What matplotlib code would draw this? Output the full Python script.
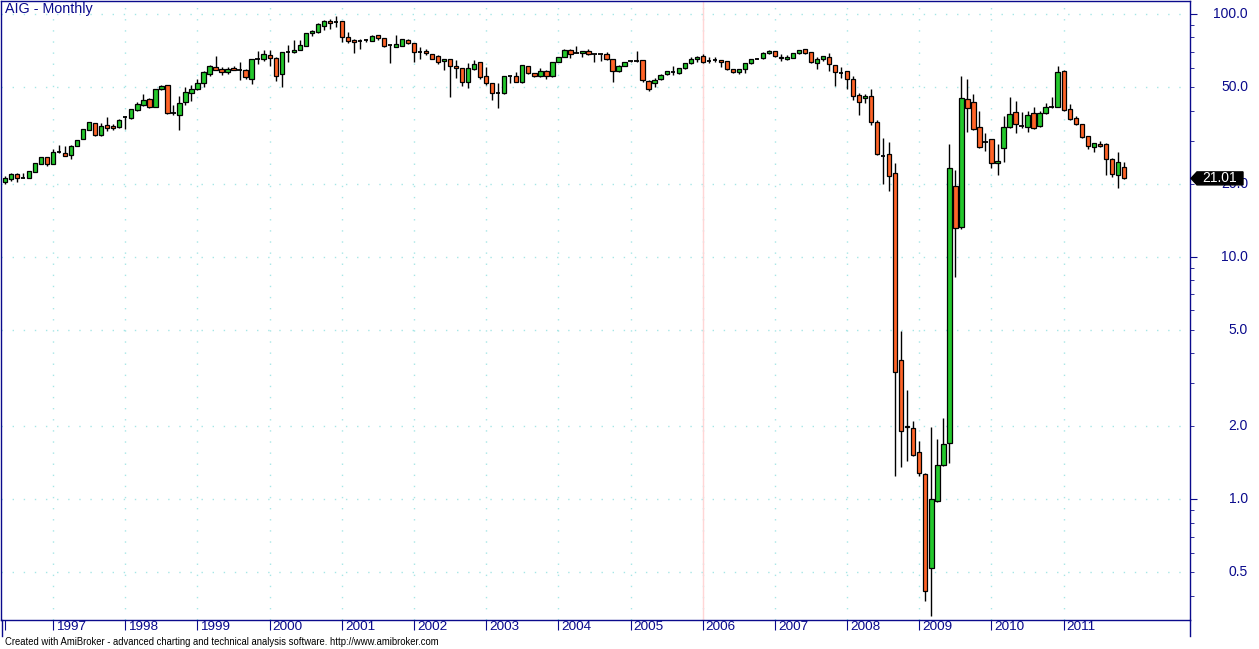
"""AIG monthly candlestick chart, AmiBroker style, log price scale."""

import matplotlib

matplotlib.use("Agg")
import matplotlib.pyplot as plt
import matplotlib.transforms as mtransforms
from matplotlib.patches import Polygon
import numpy as np
import pandas as pd

plt.rcParams["font.family"] = ["Liberation Sans", "DejaVu Sans"]

NAVY = "#0a0a8c"
GREEN = "#24c82c"
ORANGE = "#ff6428"
GRID = "#a6e6e6"

# ---- Data: monthly OHLC, May 1996 .. Nov 2011 ------------------------------ #
start_month = "1996-05"

opens = [
    20.25, 20.85, 22.0, 21.2, 21.05, 22.4, 24.1, 25.65,
    24.1, 26.9, 26.7, 26.15, 28.7, 30.5, 33.4, 35.4, 31.6, 34.8, 34.5, 34.1,
    37.4, 37.2, 40.1, 42.0, 44.6, 41.5, 48.9, 50.8, 39.2, 38.2, 43.5, 47.1,
    49.2, 51.8, 56.4, 60.3, 59.1, 57.5, 59.7, 58.7, 58.7, 53.8, 65.3, 65.0,
    67.6, 65.6, 56.4, 69.9, 69.5, 71.3, 74.0, 83.2, 84.5, 89.5, 93.3, 92.7,
    93.3, 80.6, 78.2, 77.8, 77.7, 77.5, 81.6, 79.4, 74.4, 73.3, 74.0, 77.9,
    75.7, 70.0, 70.3, 68.2, 66.9, 63.8, 65.0, 61.1, 59.7, 52.3, 59.5, 63.4,
    55.3, 51.8, 47.2, 47.1, 55.4, 55.4, 52.3, 61.1, 57.1, 55.4, 58.2, 55.4,
    63.6, 66.7, 70.8, 69.2, 68.9, 70.2, 68.3, 68.2, 68.2, 65.0, 58.4, 61.1,
    63.8, 64.0, 64.4, 52.8, 51.8, 53.8, 56.4, 57.9, 56.9, 59.7, 62.6, 65.0,
    66.9, 64.3, 64.4, 64.4, 63.8, 59.3, 57.5, 59.1, 62.6, 65.4, 65.6, 68.9,
    70.2, 66.7, 65.0, 66.1, 68.9, 71.6, 69.5, 62.6, 65.0, 66.5, 61.5, 57.3,
    58.2, 54.1, 46.2, 44.9, 45.9, 35.8, 26.0, 26.6, 22.1, 3.74, 2.0, 1.96,
    1.56, 1.27, 0.52, 0.98, 1.38, 1.70, 19.5, 13.2, 44.5, 43.3, 34.1, 29.8,
    30.4, 24.3, 28.0, 34.1, 39.4, 34.5, 34.1, 39.0, 34.4, 39.0, 41.4, 41.5,
    58.2, 40.5, 37.2, 35.1, 31.3, 28.4, 29.1, 29.1, 25.2, 21.6, 23.35,
]
highs = [
    21.4, 22.2, 22.1, 22.15, 22.6, 24.3, 25.8, 25.8,
    27.7, 28.8, 28.6, 28.8, 30.3, 33.6, 35.9, 35.5, 35.5, 37.6, 35.2, 37.0,
    37.8, 40.7, 43.2, 46.6, 44.9, 49.1, 50.9, 51.0, 42.3, 45.9, 50.2, 51.2,
    54.0, 58.4, 61.6, 67.1, 60.3, 60.7, 61.2, 63.2, 59.3, 65.1, 70.2, 71.1,
    71.1, 66.7, 69.7, 74.5, 77.9, 78.2, 83.4, 85.6, 91.5, 94.8, 95.7, 98.1,
    93.5, 84.0, 79.1, 79.1, 78.5, 82.1, 81.8, 79.6, 74.8, 81.9, 78.9, 78.7,
    76.0, 72.9, 72.0, 68.4, 67.6, 65.2, 65.2, 64.6, 59.9, 62.6, 64.6, 63.6,
    60.5, 52.0, 51.8, 55.6, 55.6, 57.7, 61.7, 61.3, 57.3, 59.7, 58.8, 63.4,
    66.7, 71.8, 71.8, 73.8, 70.4, 71.6, 68.5, 68.5, 69.5, 65.2, 61.7, 63.6,
    64.2, 70.4, 64.6, 53.5, 54.5, 56.6, 58.4, 61.1, 59.9, 62.8, 66.5, 67.1,
    68.4, 66.3, 66.7, 64.6, 64.2, 59.5, 59.3, 62.8, 65.2, 65.8, 69.9, 71.1,
    70.4, 68.2, 67.8, 69.1, 71.1, 71.8, 69.7, 66.3, 67.1, 68.9, 61.7, 60.7,
    58.4, 55.4, 47.1, 46.9, 48.9, 36.4, 30.9, 29.6, 24.2, 4.94, 2.82, 2.10,
    1.74, 1.28, 1.99, 1.77, 2.17, 29.1, 22.75, 55.5, 54.0, 46.7, 39.8, 32.2,
    30.6, 29.1, 38.0, 45.4, 43.9, 39.6, 39.8, 41.5, 39.8, 42.9, 45.4, 61.1,
    58.5, 42.5, 38.0, 35.3, 31.5, 29.5, 30.0, 29.3, 25.4, 26.9, 24.5,
]
lows = [
    19.85, 20.5, 20.25, 21.05, 21.0, 22.3, 24.0, 23.7,
    24.0, 26.8, 26.0, 25.3, 28.6, 30.4, 33.1, 31.5, 31.5, 32.8, 33.2, 34.0,
    33.7, 37.0, 40.0, 41.8, 41.1, 41.3, 48.8, 38.8, 38.3, 33.1, 42.1, 43.9,
    48.6, 49.9, 55.7, 58.9, 56.1, 56.4, 58.5, 53.2, 54.1, 51.6, 62.2, 64.0,
    61.3, 52.8, 50.2, 63.6, 69.3, 71.1, 73.8, 81.1, 83.2, 85.9, 86.8, 88.7,
    76.9, 76.2, 69.3, 71.8, 77.0, 77.3, 78.2, 73.3, 63.0, 72.9, 73.8, 75.5,
    63.6, 65.4, 67.6, 65.0, 62.4, 59.0, 45.6, 54.6, 50.7, 49.7, 58.6, 53.8,
    51.2, 44.1, 41.1, 47.0, 52.1, 52.4, 52.1, 56.4, 55.2, 55.2, 54.1, 55.2,
    63.4, 66.5, 66.1, 68.9, 66.3, 68.0, 63.6, 64.2, 64.8, 52.6, 57.8, 60.9,
    63.6, 63.6, 52.6, 48.3, 50.2, 53.2, 56.2, 56.2, 56.7, 59.5, 62.4, 63.6,
    63.0, 63.0, 63.4, 60.7, 58.9, 57.3, 56.6, 57.3, 62.4, 65.0, 65.4, 68.2,
    66.7, 64.2, 64.8, 65.9, 68.7, 68.7, 63.0, 59.3, 63.8, 58.0, 50.7, 54.5,
    49.2, 44.1, 38.5, 43.1, 35.0, 26.3, 19.85, 18.7, 1.25, 1.36, 1.44, 1.51,
    1.25, 0.38, 0.33, 0.97, 1.37, 1.41, 8.27, 13.0, 32.7, 33.2, 28.0, 27.3,
    23.1, 21.6, 24.6, 33.9, 32.2, 33.8, 32.5, 33.5, 34.2, 38.6, 40.9, 41.3,
    39.9, 36.7, 34.9, 30.8, 27.8, 27.1, 28.4, 21.6, 21.2, 19.2, 20.9,
]
closes = [
    21.05, 22.0, 21.05, 21.15, 22.5, 24.2, 25.65, 24.1,
    26.95, 26.95, 26.1, 28.7, 30.2, 33.5, 35.8, 31.6, 34.5, 34.0, 33.8, 36.6,
    37.45, 40.5, 42.4, 44.2, 41.5, 48.9, 50.7, 38.9, 39.1, 42.8, 47.6, 48.9,
    51.8, 57.7, 60.9, 59.0, 57.5, 59.1, 58.7, 58.6, 54.8, 65.0, 65.4, 68.2,
    65.6, 55.7, 69.5, 70.0, 71.1, 74.5, 83.2, 85.0, 90.6, 93.6, 91.5, 92.6,
    80.6, 77.7, 76.4, 77.7, 77.8, 81.1, 79.4, 74.0, 74.5, 75.0, 78.7, 75.7,
    69.9, 69.9, 68.9, 65.4, 63.6, 65.0, 60.9, 59.7, 52.3, 59.7, 62.2, 55.2,
    51.8, 47.1, 47.1, 55.4, 55.5, 52.6, 61.5, 56.9, 55.4, 58.2, 55.4, 63.2,
    66.5, 70.8, 68.2, 69.3, 70.2, 68.2, 68.2, 68.3, 65.0, 58.0, 60.9, 63.2,
    63.9, 63.9, 53.2, 48.9, 53.3, 55.9, 58.2, 57.8, 59.7, 62.6, 65.0, 66.3,
    63.2, 64.2, 64.5, 63.2, 59.1, 57.5, 59.1, 62.6, 65.0, 65.3, 68.9, 70.4,
    66.9, 65.6, 66.5, 68.9, 70.8, 68.9, 63.2, 65.0, 66.9, 62.0, 57.5, 57.2,
    54.1, 46.0, 43.2, 45.8, 35.8, 26.5, 25.95, 21.5, 3.34, 1.91, 1.99, 1.52,
    1.28, 0.42, 1.0, 1.38, 1.69, 23.1, 13.1, 45.0, 40.9, 33.5, 28.2, 29.7,
    24.3, 24.7, 34.1, 38.6, 35.1, 34.4, 38.2, 33.8, 39.0, 41.5, 41.5, 57.5,
    40.1, 36.9, 35.1, 31.0, 28.5, 29.3, 28.7, 25.2, 21.85, 24.5, 21.01,
]

y_levels = [0.5, 1.0, 2.0, 5.0, 10.0, 20.0, 50.0, 100.0]
selected_month = "2006-01"


def main() -> int:
    o = np.array(opens)
    h = np.array(highs)
    lo = np.array(lows)
    c = np.array(closes)
    n = len(c)
    dates = pd.date_range(start_month, periods=n, freq="MS")
    idx = np.arange(n)

    W, H = 1259, 649
    fig = plt.figure(figsize=(W / 100, H / 100), dpi=100)
    fig.patch.set_facecolor("white")
    ax = fig.add_axes([1 / W, (H - 620) / H, (1190 - 1) / W, (620 - 1) / H])

    ax.set_yscale("log")
    ax.set_xlim(-0.665, 197.0)
    ax.set_ylim(0.318, 113.1)

    # ---- grid ------------------------------------------------------------- #
    year_idx = idx[dates.month == 1]
    for v in y_levels:
        ax.axhline(v, color=GRID, lw=1, ls=(0, (1, 7)), zorder=0)
    for x in year_idx:
        ax.axvline(x, color=GRID, lw=1, ls=(0, (1, 7)), zorder=0)
    sel = idx[dates == pd.Timestamp(selected_month)][0]
    ax.axvline(sel, color="#ffd6d6", lw=1, zorder=0.5)

    # ---- candles ---------------------------------------------------------- #
    ax.vlines(idx, lo, h, color="black", lw=1, zorder=2)
    width = 0.72
    doji = np.abs(np.log(c / o)) < 0.004
    up = (c >= o) & ~doji
    dn = (c < o) & ~doji
    for mask, col in ((up, GREEN), (dn, ORANGE)):
        bottom = np.minimum(o, c)[mask]
        top = np.maximum(o, c)[mask]
        ax.bar(idx[mask], top - bottom, bottom=bottom, width=width,
               color=col, edgecolor="black", lw=0.9, zorder=3)
    ax.hlines(c[doji], idx[doji] - width / 2, idx[doji] + width / 2,
              color="black", lw=1.3, zorder=3)

    # ---- frame / axes ----------------------------------------------------- #
    for s in ax.spines.values():
        s.set_color(NAVY)
        s.set_linewidth(1)
    ax.yaxis.tick_right()
    ax.tick_params(axis="y", which="major", direction="out", length=5,
                   color=NAVY, labelright=False, labelleft=False)
    ax.tick_params(axis="y", which="minor", direction="out", length=3,
                   color=NAVY, labelright=False, labelleft=False)
    ax.set_xticks(np.concatenate([[0], year_idx]))
    ax.set_xticks([], minor=True)
    ax.tick_params(axis="x", direction="out", length=7, color=NAVY,
                   labelbottom=False)

    xlab_tr = mtransforms.offset_copy(ax.get_xaxis_transform(), fig=fig,
                                      x=3, y=-1, units="dots")
    for x, d in zip(year_idx, dates[year_idx]):
        ax.text(x, 0, str(d.year), transform=xlab_tr, ha="left", va="top",
                fontsize=9.7, color=NAVY)

    ylab_tr = mtransforms.offset_copy(ax.get_yaxis_transform(), fig=fig,
                                      x=58, y=0, units="dots")
    for v in y_levels:
        ax.text(1.0, v, f"{v:.1f}", transform=ylab_tr, ha="right",
                va="center", fontsize=10, color=NAVY, clip_on=False)

    # extend side lines below the axis like the original frame
    fig.add_artist(plt.Line2D([1.5 / W, 1.5 / W], [(H - 636) / H, (H - 620) / H],
                              color=NAVY, lw=1))
    fig.add_artist(plt.Line2D([1190 / W, 1190 / W], [(H - 636) / H, (H - 620) / H],
                              color=NAVY, lw=1))

    # ---- texts ------------------------------------------------------------ #
    fig.text(5 / W, 1 - 9 / H, "AIG - Monthly", ha="left", va="center",
             fontsize=10.3, color=NAVY)
    fig.text(5 / W, 1 - 642 / H,
             "Created with AmiBroker - advanced charting and technical analysis "
             "software. http://www.amibroker.com",
             ha="left", va="center", fontsize=6.85, color="black")

    # ---- last price marker ------------------------------------------------ #
    fig.canvas.draw()
    ypix = ax.transData.transform((0, c[-1]))[1]
    xa = ax.transAxes.transform((1, 0))[0]
    verts = [(xa + 1, ypix), (xa + 7, ypix + 6.5), (xa + 53, ypix + 6.5),
             (xa + 53, ypix - 6.5), (xa + 7, ypix - 6.5)]
    fig.add_artist(Polygon(verts, closed=True, facecolor="black",
                           edgecolor="black", transform=mtransforms.IdentityTransform(),
                           zorder=10))
    fig.text((xa + 30) / W, ypix / H, f"{c[-1]:.2f}", ha="center", va="center",
             fontsize=10, color="white", zorder=11)

    fig.savefig("out.png", dpi=100)
    plt.close(fig)
    return 0


if __name__ == "__main__":
    raise SystemExit(main())
